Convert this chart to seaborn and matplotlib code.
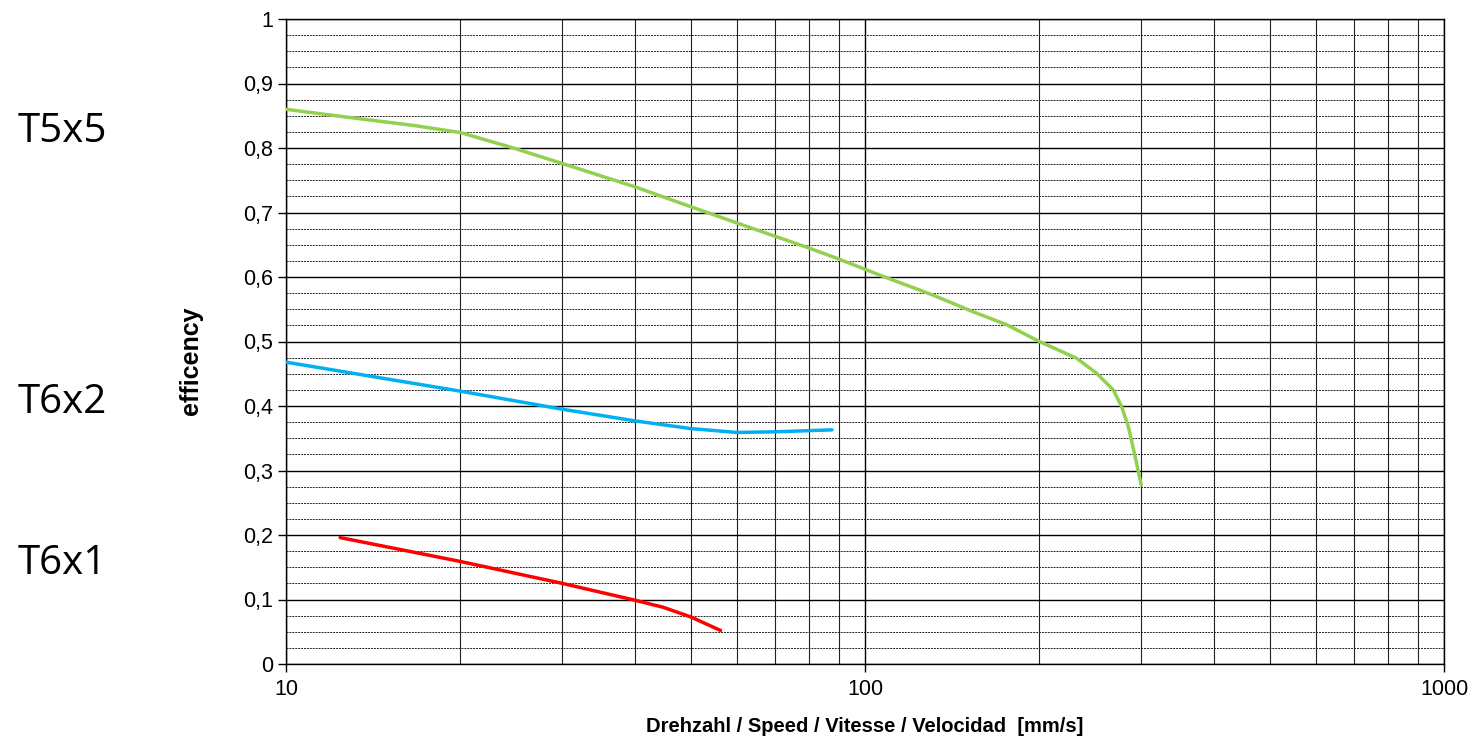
import matplotlib
matplotlib.use("Agg")
import matplotlib.pyplot as plt
import matplotlib.ticker as mticker
import seaborn as sns
import pandas as pd
import numpy as np

# ---- data ----
t5x5_speed = [10, 12.7, 16.6, 20, 24.7, 30, 40, 50, 60, 70, 80, 90, 100, 106, 131,
              153.8, 175.7, 200, 232, 251, 268.4, 277.5, 285, 291.9, 300]
t5x5_eff = [0.860, 0.848, 0.835, 0.824, 0.800, 0.776, 0.740, 0.709, 0.684, 0.663,
            0.645, 0.628, 0.612, 0.603, 0.572, 0.546, 0.526, 0.500, 0.474, 0.451,
            0.425, 0.399, 0.368, 0.327, 0.2775]

t6x2_speed = [10, 20, 30, 40, 50, 60, 70, 87.7]
t6x2_eff = [0.468, 0.423, 0.395, 0.377, 0.365, 0.359, 0.360, 0.363]

t6x1_speed = [12.4, 20, 30, 40, 44.8, 50, 56.3]
t6x1_eff = [0.196, 0.159, 0.125, 0.099, 0.088, 0.073, 0.052]

series_names = ["T5x5", "T6x2", "T6x1"]
series_colors = ["#92D050", "#00B0F0", "#FF0000"]
label_y = [0.825, 0.405, 0.155]  # vertical position of the side labels (data units)

y_ticks = [0, 0.1, 0.2, 0.3, 0.4, 0.5, 0.6, 0.7, 0.8, 0.9, 1.0]
y_tick_labels = ["0", "0,1", "0,2", "0,3", "0,4", "0,5", "0,6", "0,7", "0,8", "0,9", "1"]
x_ticks = [10, 100, 1000]
x_tick_labels = ["10", "100", "1000"]

x_label = "Drehzahl / Speed / Vitesse / Velocidad  [mm/s]"
y_label = "efficency"

# ---- build table ----
frames = []
for name, xs, ys in [("T5x5", t5x5_speed, t5x5_eff),
                     ("T6x2", t6x2_speed, t6x2_eff),
                     ("T6x1", t6x1_speed, t6x1_eff)]:
    frames.append(pd.DataFrame({"speed": xs, "eff": ys, "series": name}))
df = pd.concat(frames, ignore_index=True)

sns.set_style("white")
plt.rcParams["font.family"] = ["Liberation Sans", "DejaVu Sans"]
plt.rcParams["text.color"] = "black"
plt.rcParams["axes.labelcolor"] = "black"
plt.rcParams["xtick.color"] = "black"
plt.rcParams["ytick.color"] = "black"

fig = plt.figure(figsize=(14.73, 7.41), dpi=100)
ax = fig.add_axes([286 / 1473, 1 - 664 / 741, (1444 - 286) / 1473, (664 - 19) / 741])

ax.set_xscale("log")
ax.set_xlim(10, 1000)
ax.set_ylim(0, 1)

# grid
ax.set_axisbelow(True)
ax.yaxis.set_minor_locator(mticker.MultipleLocator(0.025))
ax.xaxis.set_minor_locator(mticker.LogLocator(base=10, subs=np.arange(2, 10)))
ax.grid(which="major", axis="both", color="black", linewidth=1.0, linestyle="-")
ax.grid(which="minor", axis="x", color="#222222", linewidth=0.8, linestyle="-")
ax.grid(which="minor", axis="y", color="#222222", linewidth=0.7, linestyle=(0, (2.0, 1.0)))

sns.lineplot(data=df, x="speed", y="eff", hue="series", hue_order=series_names,
             palette=series_colors, estimator=None, sort=False, linewidth=2.5,
             legend=False, ax=ax, zorder=3)

ax.set_xticks(x_ticks)
ax.set_xticklabels(x_tick_labels)
ax.set_yticks(y_ticks)
ax.set_yticklabels(y_tick_labels)
ax.xaxis.set_minor_formatter(mticker.NullFormatter())
ax.tick_params(which="major", bottom=True, left=True, direction="out", length=6,
               width=1, color="black", labelcolor="black", labelsize=15.5, pad=3.5)
ax.tick_params(which="minor", length=0)
ax.tick_params(axis="x", which="major", pad=5)

for s in ax.spines.values():
    s.set_color("black")
    s.set_linewidth(1.0)

ax.set_xlabel(x_label, fontsize=14.5, fontweight="bold", labelpad=12)
ax.set_ylabel(y_label, fontsize=18, fontweight="bold")
ax.yaxis.set_label_coords(-0.0717, (664 - 361) / 645)

for name, yv in zip(series_names, label_y):
    ax.text(-0.232, yv, name, transform=ax.get_yaxis_transform(), fontsize=29,
            family=["Open Sans", "DejaVu Sans"], color="black", va="center", ha="left")

fig.savefig("out.png", dpi=100, facecolor="white")
